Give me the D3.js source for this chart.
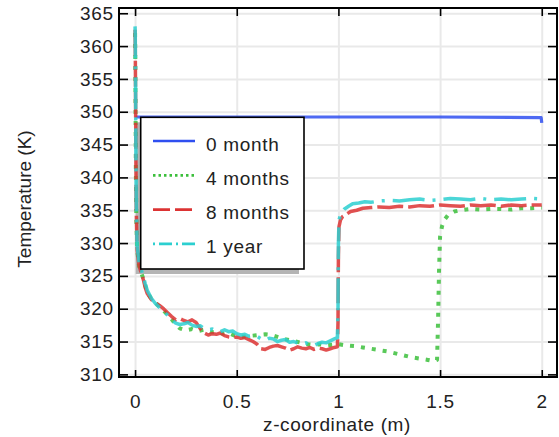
<!DOCTYPE html>
<html>
<head>
<meta charset="utf-8">
<script src="https://cdn.jsdelivr.net/npm/d3@7"></script>
<style>
  html, body { margin: 0; padding: 0; background: #fff; }
  svg { display: block; font-family: "Liberation Sans", Arial, sans-serif; }
</style>
</head>
<body>
<svg id="chart" width="559" height="437"></svg>
<script>
// ---------------- data ----------------
const xTickValues = [0, 0.5, 1, 1.5, 2];
const xTickLabels = ["0", "0.5", "1", "1.5", "2"];
const yTickValues = [310, 315, 320, 325, 330, 335, 340, 345, 350, 355, 360, 365];
const yTickLabels = ["310", "315", "320", "325", "330", "335", "340", "345", "350", "355", "360", "365"];

const seriesNames = ["0 month", "4 months", "8 months", "1 year"];

// 0 month
const zZero = [0.002, 0.5, 1.0, 1.5, 1.997, 2.0];
const tZero = [349.2, 349.2, 349.2, 349.2, 349.1, 348.3];

// 4 months
const zFour = [0, 0.001, 0.002, 0.003, 0.004, 0.006, 0.01, 0.02, 0.03, 0.04, 0.06, 0.08, 0.10, 0.12, 0.14, 0.16, 0.18, 0.20, 0.22, 0.25, 0.28, 0.31, 0.34, 0.37, 0.40, 0.43, 0.46, 0.49, 0.52, 0.55, 0.58, 0.61, 0.64, 0.67, 0.70, 0.73, 0.76, 0.79, 0.82, 0.85, 0.88, 0.91, 0.94, 0.97, 1.0, 1.04, 1.08, 1.12, 1.16, 1.20, 1.24, 1.28, 1.32, 1.36, 1.40, 1.44, 1.47, 1.485, 1.49, 1.495, 1.50, 1.51, 1.52, 1.54, 1.57, 1.60, 1.65, 1.70, 1.75, 1.80, 1.85, 1.90, 1.95, 2.0];
const tFour = [362, 359, 353, 347, 341, 334, 329, 326.5, 325.5, 324.6, 322.5, 321.5, 320.9, 320.3, 319.7, 319.1, 318.4, 317.6, 317.0, 316.7, 316.9, 316.6, 316.8, 316.4, 316.5, 316.2, 316.3, 315.9, 315.7, 315.8, 315.9, 316.0, 316.1, 316.0, 315.7, 315.4, 315.2, 315.0, 314.8, 314.6, 314.5, 314.6, 314.4, 314.5, 314.6, 314.4, 314.3, 314.1, 313.9, 313.7, 313.5, 313.2, 312.9, 312.6, 312.4, 312.2, 312.0, 312.2, 318, 326, 331, 332.6, 333.5, 334.3, 334.8, 335.0, 335.2, 335.1, 335.2, 335.2, 335.1, 335.3, 335.3, 335.4];

// 8 months
const zEight = [0, 0.001, 0.002, 0.003, 0.004, 0.006, 0.01, 0.02, 0.03, 0.04, 0.05, 0.06, 0.08, 0.10, 0.12, 0.14, 0.16, 0.18, 0.20, 0.22, 0.24, 0.26, 0.28, 0.30, 0.32, 0.34, 0.36, 0.38, 0.40, 0.42, 0.44, 0.46, 0.48, 0.50, 0.52, 0.54, 0.56, 0.58, 0.60, 0.62, 0.64, 0.66, 0.68, 0.70, 0.72, 0.74, 0.76, 0.78, 0.80, 0.82, 0.84, 0.86, 0.88, 0.90, 0.92, 0.94, 0.96, 0.98, 0.995, 0.998, 1.0, 1.003, 1.01, 1.02, 1.04, 1.06, 1.09, 1.12, 1.16, 1.20, 1.25, 1.30, 1.35, 1.40, 1.45, 1.50, 1.55, 1.60, 1.65, 1.70, 1.75, 1.80, 1.85, 1.90, 1.95, 2.0];
const tEight = [362.5, 360, 355, 349, 343, 335, 329, 326.5, 325.5, 324.5, 323.2, 322.3, 321.4, 320.9, 320.5, 320.0, 319.4, 318.8, 318.3, 318.5, 318.2, 318.0, 318.3, 317.9, 317.0, 316.3, 316.0, 316.2, 316.1, 316.3, 315.9, 315.7, 315.6, 315.7, 315.5, 315.6, 315.3, 315.0, 314.6, 313.9, 313.8, 314.1, 314.3, 314.4, 314.2, 314.0, 313.7, 313.9, 314.2, 314.0, 313.9, 314.1, 313.8, 314.0, 313.9, 313.7, 313.9, 314.1, 314.2, 318, 328, 332.5, 333.5, 334.0, 334.4, 334.8, 335.0, 335.3, 335.4, 335.5, 335.4, 335.6, 335.5, 335.7, 335.6, 335.8, 335.7, 335.6, 335.8, 335.7, 335.8, 335.6, 335.8, 335.7, 335.8, 335.8];

// 1 year
const zYear = [0, 0.001, 0.002, 0.003, 0.004, 0.006, 0.01, 0.02, 0.03, 0.04, 0.05, 0.06, 0.07, 0.08, 0.10, 0.12, 0.14, 0.16, 0.18, 0.20, 0.22, 0.24, 0.26, 0.28, 0.30, 0.32, 0.34, 0.36, 0.38, 0.40, 0.42, 0.44, 0.46, 0.48, 0.50, 0.52, 0.54, 0.56, 0.58, 0.60, 0.62, 0.64, 0.66, 0.68, 0.70, 0.72, 0.74, 0.76, 0.78, 0.80, 0.82, 0.84, 0.86, 0.88, 0.90, 0.92, 0.94, 0.96, 0.98, 0.995, 0.998, 1.0, 1.003, 1.01, 1.02, 1.03, 1.05, 1.07, 1.10, 1.13, 1.16, 1.20, 1.25, 1.30, 1.35, 1.40, 1.45, 1.50, 1.55, 1.60, 1.65, 1.70, 1.75, 1.80, 1.85, 1.90, 1.95, 2.0];
const tYear = [363, 361.5, 357, 351, 344, 336, 329.5, 327, 326, 325, 323.8, 322.8, 322.2, 321.6, 320.8, 320.2, 319.6, 319.0, 318.3, 317.8, 317.6, 317.7, 317.9, 317.5, 317.3, 317.4, 317.0, 316.8, 316.9, 316.6, 316.5, 316.8, 316.5, 316.6, 316.2, 316.0, 316.1, 315.8, 315.9, 315.8, 315.4, 315.2, 315.5, 315.4, 315.0, 315.2, 315.3, 314.9, 315.0, 314.8, 314.6, 314.8, 314.5, 314.4, 314.7, 314.9, 314.8, 315.1, 315.4, 315.6, 320, 330, 333.5, 334.3, 334.8, 335.2, 335.6, 336.0, 336.1, 336.3, 336.2, 336.4, 336.5, 336.4, 336.6, 336.7, 336.5, 336.6, 336.8, 336.7, 336.6, 336.8, 336.6, 336.7, 336.6, 336.7, 336.8, 336.7];

// ---------------- chart ----------------
const svg = d3.select("#chart");
const L = 119, R = 557, T = 8, B = 377;
const x = d3.scaleLinear().domain([-0.079, 2.075]).range([L, R]);
const y = d3.scaleLinear().domain([309.6, 365.8]).range([B, T]);

// grid
const grid = svg.append("g");
grid.append("g").attr("transform", `translate(0,${B})`)
  .call(d3.axisBottom(x).tickValues(xTickValues).tickSize(-(B - T)).tickFormat(""))
  .call(g => g.select(".domain").remove())
  .call(g => g.selectAll("line").attr("stroke", "#e9e9e9").attr("stroke-width", 2));
grid.append("g").attr("transform", `translate(${L},0)`)
  .call(d3.axisLeft(y).tickValues(yTickValues).tickSize(-(R - L)).tickFormat(""))
  .call(g => g.select(".domain").remove())
  .call(g => g.selectAll("line").attr("stroke", "#e9e9e9").attr("stroke-width", 2));

// legend geometry
const lgX = 140.7, lgY = 117.3, lgW = 163.3, lgH = 151.7;
svg.append("rect").attr("x", lgX - 5).attr("y", lgY + 5).attr("width", lgW).attr("height", lgH)
  .attr("fill", "#b4b4b4");

const series = [
  { name: seriesNames[0], z: zZero, t: tZero, color: "#2f4ff0", dash: null, ldash: null, width: 3.2 },
  { name: seriesNames[1], z: zFour, t: tFour, color: "#3cbf3c", dash: "4,7", ldash: "2.5,3", width: 4 },
  { name: seriesNames[2], z: zEight, t: tEight, color: "#dc3333", dash: "26,5", ldash: "17,5", width: 3.5 },
  { name: seriesNames[3], z: zYear, t: tYear, color: "#2ccfd0", dash: "32,8,3,8", ldash: "2,4,13,4", width: 3.5 }
];

const line = d3.line().x(d => x(d[0])).y(d => y(d[1]));
const lines = svg.append("g");
series.forEach(s => {
  const pts = s.z.map((z, i) => [z, s.t[i]]);
  lines.append("path").datum(pts)
    .attr("d", line)
    .attr("fill", "none")
    .attr("stroke", s.color)
    .attr("stroke-width", s.width)
    .attr("stroke-opacity", 0.85)
    .attr("stroke-linejoin", "round")
    .attr("stroke-dasharray", s.dash);
});

// axes (inward ticks)
const tickStyle = g => {
  g.select(".domain").remove();
  g.selectAll(".tick line").attr("stroke", "#000").attr("stroke-width", 1.6);
  g.selectAll("text").attr("fill", "#222").style("font-size", "19px")
    .style("letter-spacing", "0.8px")
    .style("font-family", "'Liberation Sans', Arial, sans-serif");
};
svg.append("g").attr("transform", `translate(${L},0)`)
  .call(d3.axisLeft(y).tickValues(yTickValues).tickSize(-9).tickPadding(5)
    .tickFormat((d, i) => yTickLabels[i]))
  .call(tickStyle);
svg.append("g").attr("transform", `translate(0,${B})`)
  .call(d3.axisBottom(x).tickValues(xTickValues).tickSize(-7).tickPadding(18)
    .tickFormat((d, i) => xTickLabels[i]))
  .call(tickStyle);
svg.append("g").attr("transform", `translate(0,${T})`)
  .call(d3.axisTop(x).tickValues(xTickValues).tickSize(-8).tickFormat(""))
  .call(tickStyle);
svg.append("g").attr("transform", `translate(${R},0)`)
  .call(d3.axisRight(y).tickValues(yTickValues).tickSize(-9).tickFormat(""))
  .call(tickStyle);

// frame
svg.append("rect").attr("x", L).attr("y", T).attr("width", R - L).attr("height", B - T)
  .attr("fill", "none").attr("stroke", "#000").attr("stroke-width", 2);

// axis titles
svg.append("text").attr("x", 337).attr("y", 430.5).attr("text-anchor", "middle")
  .style("font-size", "19px").style("letter-spacing", "0.6px").attr("fill", "#222").text("z-coordinate (m)");
svg.append("text").attr("transform", "translate(30.5,199) rotate(-90)").attr("text-anchor", "middle")
  .style("font-size", "19px").attr("fill", "#222").text("Temperature (K)");

// legend
const lg = svg.append("g");
lg.append("rect").attr("x", lgX).attr("y", lgY).attr("width", lgW).attr("height", lgH)
  .attr("fill", "#fff").attr("stroke", "#000").attr("stroke-width", 1.6);
series.forEach((s, i) => {
  const cy = 141 + i * 34.3;
  lg.append("line").attr("x1", 153).attr("x2", 195).attr("y1", cy).attr("y2", cy)
    .attr("stroke", s.color).attr("stroke-width", Math.min(s.width, 3.5) - 0.8)
    .attr("stroke-dasharray", s.ldash);
  lg.append("text").attr("x", 206).attr("y", cy + 9.5)
    .style("font-size", "19px").style("letter-spacing", "0.7px").attr("fill", "#222").text(s.name);
});
</script>
</body>
</html>
